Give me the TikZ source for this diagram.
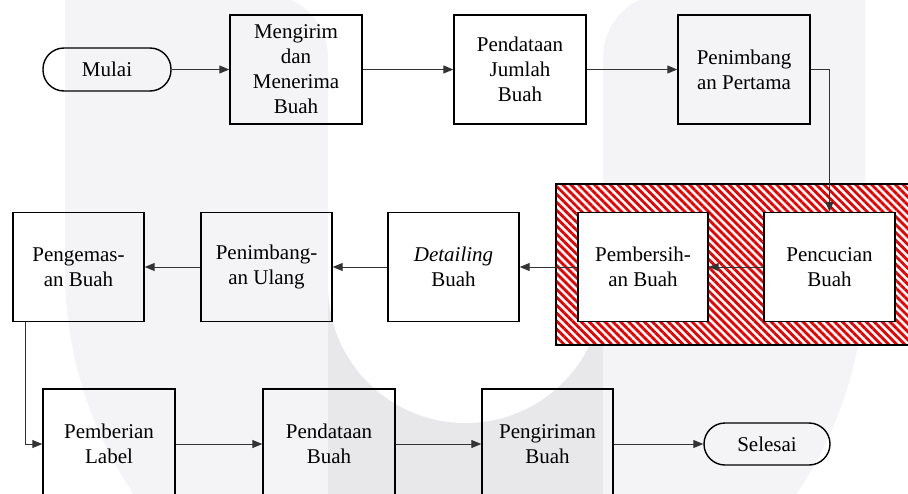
\documentclass[tikz,border=0pt]{standalone}
\usepackage{fontspec}
\setmainfont{Liberation Serif}
\usetikzlibrary{arrows.meta,patterns.meta}
\definecolor{wmlight}{RGB}{244,244,247}
\definecolor{wmdark}{RGB}{232,232,235}
\definecolor{hatchred}{RGB}{235,0,0}
\tikzset{
  procbox/.style={draw=black, line width=1.4pt, minimum width=132pt, minimum height=109pt,
    align=center, inner sep=2pt, font=\fontsize{21}{25}\selectfont},
  termbox/.style={draw=black, line width=1.4pt, rounded corners=21pt, minimum width=128pt,
    minimum height=43pt, align=center, inner sep=2pt, font=\fontsize{21}{25}\selectfont},
  flow/.style={draw=black!80, line width=1pt, -{Triangle[length=10pt,width=8pt]}}
}
\begin{document}
\begin{tikzpicture}[x=1pt,y=1pt]
\useasboundingbox (0,0) rectangle (908,-493);
\clip (0,0) rectangle (908,-493);
\fill[white] (0,0) rectangle (908,-493);
% watermark
\fill[wmlight] (65,10) -- (65,-270) arc[start angle=180, end angle=360, radius=400pt] -- (865,10) -- cycle;
\fill[wmdark] (328,0) rectangle (603,-500);
\fill[white] (328,10) -- (328,-285.5) arc[start angle=180, end angle=360, radius=137.5pt] -- (603,10) -- cycle;
\fill[white] (265,6) arc[start angle=90, end angle=0, radius=63pt] -- (328,10) -- (265,10) -- cycle;
\fill[white] (666,6) arc[start angle=90, end angle=180, radius=63pt] -- (603,10) -- (666,10) -- cycle;
% hatched frame
\fill[white] (556,-184) rectangle (920,-345);
\fill[pattern={Lines[angle=-45, distance=5.6pt, line width=2.8pt]}, pattern color=hatchred] (556,-184) rectangle (920,-345);
\draw[line width=1.4pt] (556,-184) rectangle (920,-345);
% row 1
\node[termbox] (mulai) at (107,-69.5) {Mulai};
\node[procbox] (kirimterima) at (296,-69.5) {Mengirim\\dan\\Menerima\\Buah};
\node[procbox] (jumlah) at (520,-69.5) {Pendataan\\Jumlah\\Buah};
\node[procbox] (timbang1) at (744,-69.5) {Penimbang\\an Pertama};
% row 2
\node[procbox, minimum width=131pt] (kemas) at (78.5,-267) {Pengemas-\\an Buah};
\node[procbox, minimum width=131pt] (timbang2) at (266.5,-267) {Penimbang-\\an Ulang};
\node[procbox, minimum width=131pt] (detail) at (453.5,-267) {\itshape Detailing\\Buah};
\node[procbox, fill=white, minimum width=130pt] (bersih) at (643,-267) {Pembersih-\\an Buah};
\node[procbox, fill=white, minimum width=131pt] (cuci) at (829.5,-267) {Pencucian\\Buah};
% row 3
\node[procbox, minimum height=110pt] (label) at (109,-444) {Pemberian\\Label};
\node[procbox, minimum height=110pt] (pdata) at (329,-444) {Pendataan\\Buah};
\node[procbox, minimum height=110pt, minimum width=131pt] (kirim) at (547.5,-444) {Pengiriman\\Buah};
\node[termbox, minimum width=126pt, minimum height=42pt] (selesai) at (767,-444) {Selesai};
% connectors
\draw[flow] (mulai.east) -- (kirimterima.west);
\draw[flow] (kirimterima.east) -- (jumlah.west);
\draw[flow] (jumlah.east) -- (timbang1.west);
\draw[flow] (timbang1.east) -| (cuci.north);
\draw[flow] (cuci.west) -- (bersih.east);
\draw[flow] (bersih.west) -- (detail.east);
\draw[flow] (detail.west) -- (timbang2.east);
\draw[flow] (timbang2.west) -- (kemas.east);
\draw[flow] ([xshift=13pt]kemas.south west) |- (label.west);
\draw[flow] (label.east) -- (pdata.west);
\draw[flow] (pdata.east) -- (kirim.west);
\draw[flow] (kirim.east) -- (selesai.west);
\end{tikzpicture}
\end{document}
